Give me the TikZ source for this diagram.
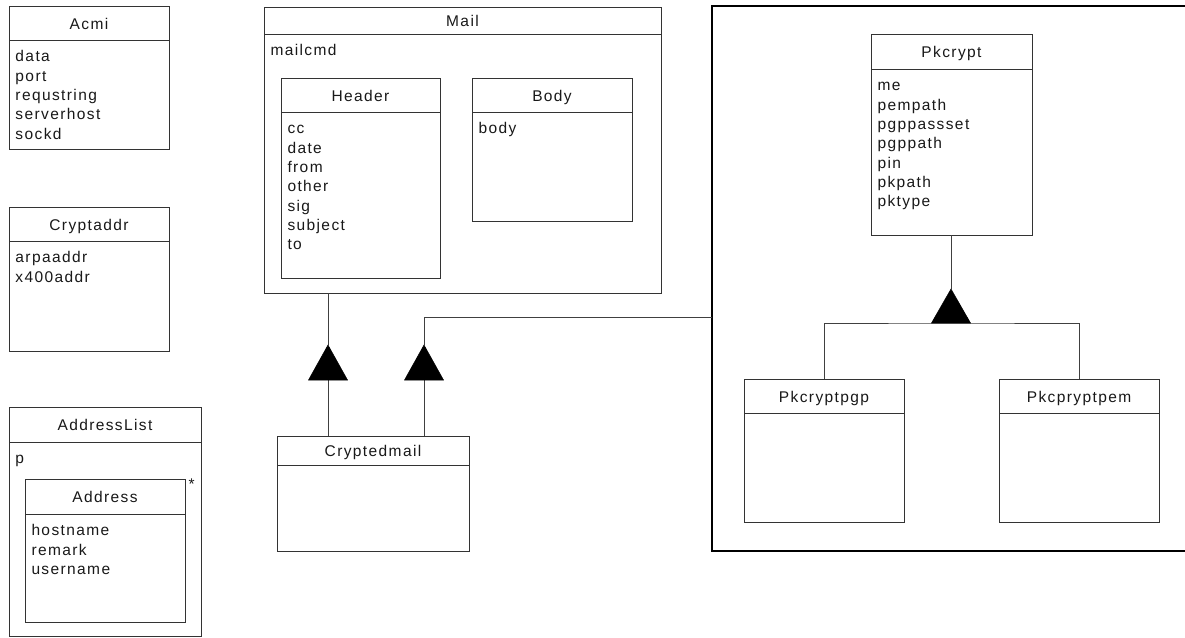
\documentclass[tikz,border=0pt]{standalone}
\usepackage{fontspec}
\setmainfont{Liberation Sans}[LetterSpace=9]
\begin{document}
\begin{tikzpicture}[x=1pt,y=-1pt,
  clsbox/.style={draw=black!80, line width=1pt, fill=white, inner sep=0pt, outer sep=0pt, rectangle},
  clsline/.style={draw=black!80, line width=1pt},
  pkgbox/.style={draw=black, line width=2pt, inner sep=0pt, outer sep=0pt, rectangle},
  conn/.style={draw=black!75, line width=1pt},
  gentri/.style={fill=black, draw=black, line width=0.5pt},
  lbl/.style={inner sep=0pt, outer sep=0pt, font=\fontsize{15.5}{18}\selectfont, text=black!90}]

\useasboundingbox (0,0) rectangle (1185,637);

% class box: name, x, y, width, height, header height, title
\newcommand\umlbox[7]{%
  \node[clsbox, minimum width=#4pt, minimum height=#5pt, anchor=north west] (#1) at (#2,#3) {};
  \draw[clsline] ([yshift=-#6pt]#1.north west) -- ([yshift=-#6pt]#1.north east);
  \node[lbl, anchor=base] (#1-title) at ([yshift={-(#6/2+6)*1pt}]#1.north) {#7};
}
% attribute list: name, header height, attributes
\newcommand\umlattrs[3]{%
  \foreach \atxt [count=\i] in {#3} {
    \node[lbl, anchor=base west] (#1-a\i) at ([xshift=6.5pt, yshift={-(#2+21.8+19.3*(\i-1))*1pt}]#1.north west) {\atxt};
  }
}
% generalisation triangle anchors: name, apex x, apex y, height
\newcommand\gentripoints[4]{%
  \coordinate (#1) at (#2,#3);
  \coordinate (#1-base) at (#2,#3+#4);
}
% filled generalisation triangle: name, height
\newcommand\gentriangle[2]{%
  \fill[gentri] (#1) -- ++(19.5,#2) -- ++(-39,0) -- cycle;
}

% package frame, open to the right
\node[pkgbox, minimum width=520pt, minimum height=545pt, anchor=north west] (pkg) at (712,6) {};

% left column
\umlbox{acmi}{9}{6}{160}{143}{34}{Acmi}
\umlattrs{acmi}{34}{data,port,requstring,serverhost,sockd}

\umlbox{cryptaddr}{9}{207}{160}{144}{34}{Cryptaddr}
\umlattrs{cryptaddr}{34}{arpaaddr,x400addr}

\umlbox{addresslist}{9}{407}{192}{229}{35}{AddressList}
\umlattrs{addresslist}{35}{p}
\umlbox{address}{25}{479}{160}{143}{35}{Address}
\umlattrs{address}{35}{hostname,remark,username}
\node[lbl, anchor=base west] (mult) at (188.5,489) {*};

% mail
\umlbox{mail}{264}{7}{397}{286}{27}{Mail}
\umlattrs{mail}{27}{mailcmd}
\umlbox{header}{281}{78}{159}{200}{34}{Header}
\umlattrs{header}{34}{cc,date,from,other,sig,subject,to}
\umlbox{body}{472}{78}{160}{143}{34}{Body}
\umlattrs{body}{34}{body}

\umlbox{cryptedmail}{277}{436}{192}{115}{29}{Cryptedmail}

% public key classes
\umlbox{pkcrypt}{871}{34}{161}{201}{35}{Pkcrypt}
\umlattrs{pkcrypt}{35}{me,pempath,pgppassset,pgppath,pin,pkpath,pktype}
\umlbox{pkcryptpgp}{744}{379}{160}{143}{34}{Pkcryptpgp}
\umlbox{pkcpryptpem}{999}{379}{160}{143}{34}{Pkcpryptpem}

% generalisations
\gentripoints{tri1}{328}{345}{35}
\gentripoints{tri2}{424}{345}{35}
\gentripoints{tri3}{951}{289}{34}
\coordinate (pkgport) at (712,317);

\draw[conn] (mail.south -| tri1) -- (tri1);
\draw[conn] (tri1-base) -- (tri1-base |- cryptedmail.north);
\draw[conn] (pkgport) -| (tri2);
\draw[conn] (tri2-base) -- (tri2-base |- cryptedmail.north);
\draw[conn] (pkcrypt.south -| tri3) -- (tri3);
\draw[conn] (pkcryptpgp.north) |- (tri3-base) -| (pkcpryptpem.north);

\gentriangle{tri1}{35}
\gentriangle{tri2}{35}
\gentriangle{tri3}{34}
\end{tikzpicture}
\end{document}
